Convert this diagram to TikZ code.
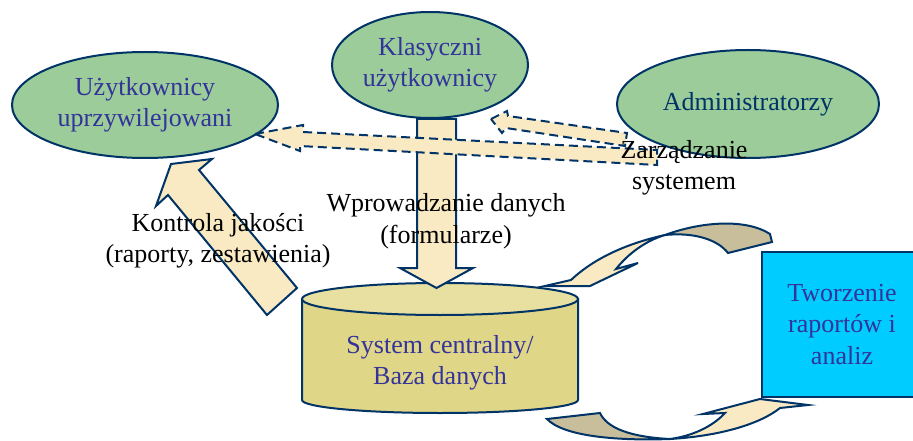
\documentclass[tikz,border=0pt]{standalone}
\usepackage{fontspec}
\setmainfont{Liberation Serif}
\usetikzlibrary{shapes.geometric}

\definecolor{navy}{RGB}{0,51,102}
\definecolor{ink}{RGB}{51,51,153}
\definecolor{usergreen}{RGB}{155,204,153}
\definecolor{wheat}{RGB}{250,234,196}
\definecolor{fold}{RGB}{201,190,155}
\definecolor{dbbody}{RGB}{224,214,136}
\definecolor{dbtop}{RGB}{231,224,160}
\definecolor{reportcyan}{RGB}{0,204,255}

\begin{document}
\begin{tikzpicture}[x=1pt,y=1pt,yscale=-1,xscale=1,
    every node/.style={font=\rmfamily\fontsize{26}{31.5}\selectfont,align=center},
    user/.style={ellipse,draw=navy,line width=2pt,fill=usergreen,text=ink,inner sep=0pt},
    blockarrow/.style={draw=navy,line width=2pt,fill=wheat,line join=miter},
    dasharrow/.style={blockarrow,dash pattern={on 9pt off 5pt}}]
				\useasboundingbox (0,0) rectangle (913,441);
				
				%Shape: Curved Arrow (top) [id:ca_top]
				\draw  [blockarrow,fill=fold] (665,235) .. controls (700,222) and (745,218) .. (770,234) -- (772,242) -- (728,253) .. controls (718,240) and (695,232) .. cycle ;
				\draw  [blockarrow] (545,286) -- (590,286) -- (638,263) -- (616,269) .. controls (628,254) and (645,241) .. (665,235) .. controls (620,245) and (590,262) .. (571,280) -- cycle ;
				%Shape: Curved Arrow (bottom) [id:ca_bottom]
				\draw  [blockarrow,fill=fold] (547,419) -- (600,413) .. controls (607,428) and (630,437) .. (670,439) .. controls (615,441) and (563,436) .. cycle ;
				\draw  [blockarrow] (670,439) .. controls (720,436) and (760,424) .. (780,408) -- (808,405) -- (760,399) -- (703,414) -- (725,413) .. controls (712,427) and (692,436) .. cycle ;
				
				%Shape: Can [id:db_can]
				\draw  [draw=navy,line width=2pt,fill=dbbody] (302,299) -- (302,400) arc[start angle=180,end angle=0,x radius=138,y radius=13] -- (578,299) -- cycle ;
				\draw  [draw=navy,line width=2pt,fill=dbtop] (440,299) ellipse [x radius=138,y radius=16] ;
				
				%Shape: Rectangle [id:report_box]
				\node [draw=navy,line width=2pt,fill=reportcyan,text=ink,minimum width=160pt,minimum height=145pt,inner sep=0pt] (report) at (842,324.5) {Tworzenie\\raportów i\\analiz};
				
				%Shape: Arrow (quality) [id:arr_quality]
				\draw  [blockarrow] (297,288) -- (199,170) -- (212,159) -- (171,164) -- (156,206) -- (168,195) -- (267,315) -- cycle ;
				%Shape: Arrow (entry) [id:arr_entry]
				\draw  [blockarrow] (417,119) -- (456,119) -- (456,268) -- (473,268) -- (436.5,288) -- (400,268) -- (417,268) -- cycle ;
				
				%Shape: Ellipse [id:users]
				\node [user,minimum width=266pt,minimum height=106pt] (priv) at (145,105) {Użytkownicy\\uprzywilejowani};
				\node [user,minimum width=196pt,minimum height=106pt] (classic) at (430,65) {Klasyczni\\użytkownicy};
				\node [user,minimum width=262pt,minimum height=108pt,text=navy] (admin) at (748,104) {Administratorzy};
				
				%Shape: Arrow dashed [id:arr_admin]
				\draw  [dasharrow] (255,134) -- (303,125) -- (303,132) -- (657,150) -- (657,165) -- (300,146) -- (300,151) -- cycle ;
				\draw  [dasharrow] (491,119) -- (507,111) -- (508,116) -- (627,133) -- (625,146) -- (506,128) -- (502,133) -- cycle ;
				
				% Text Node
				\node (db) at (440,363) [text=ink] {System centralny/\\Baza danych};
				% Text Node
				\node (entry) at (446,221) {Wprowadzanie danych\\(formularze)};
				% Text Node
				\node (quality) at (218,241) {Kontrola jakości\\(raporty, zestawienia)};
				% Text Node
				\node (manage) at (684,168) {Zarządzanie\\systemem};
				
\end{tikzpicture}
\end{document}
